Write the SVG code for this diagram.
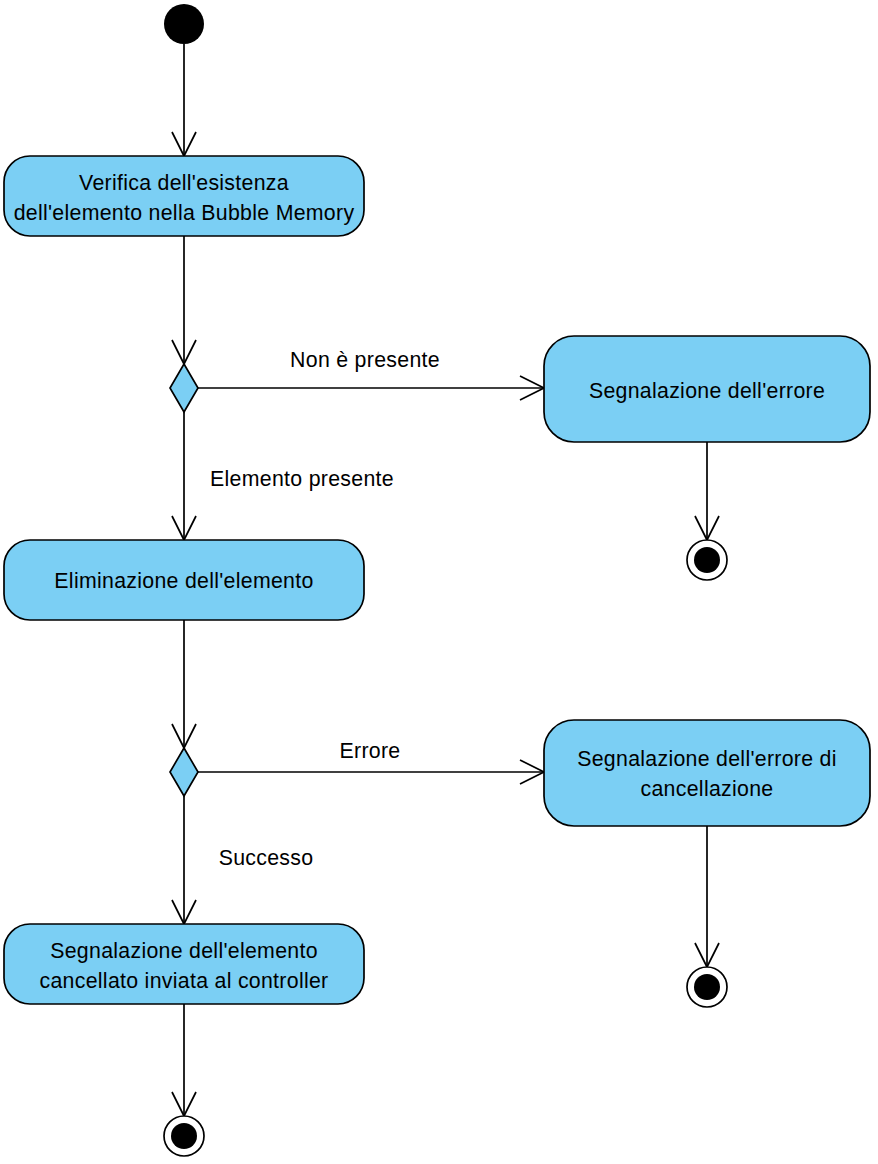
<svg xmlns="http://www.w3.org/2000/svg" width="878" height="1164" viewBox="0 0 878 1164">
<style>
.act{fill:#7bcff4;stroke:#000;stroke-width:1.7}
.dec{fill:#7bcff4;stroke:#000;stroke-width:1.7}
.t{font-family:"Liberation Sans",Arial,sans-serif;font-size:21.3px;letter-spacing:0.3px;fill:#000;text-anchor:middle}
.e{fill:none;stroke:#000;stroke-width:1.7}
.lbl{font-family:"Liberation Sans",Arial,sans-serif;font-size:21.3px;letter-spacing:0.3px;fill:#000;text-anchor:middle}
</style>
<defs>
<marker id="open" viewBox="-26 -14 28 28" markerWidth="28" markerHeight="28" refX="0" refY="0" orient="auto" markerUnits="userSpaceOnUse">
<path d="M -24 -12 L 0 0 L -24 12" fill="none" stroke="#000" stroke-width="1.7"/>
</marker>
</defs>
<rect width="878" height="1164" fill="#fff"/>
<g id="connectors">
<line class="e" x1="184" y1="44" x2="184" y2="156" marker-end="url(#open)"/>
<line class="e" x1="184" y1="236" x2="184" y2="364" marker-end="url(#open)"/>
<line class="e" x1="198" y1="388" x2="544" y2="388" marker-end="url(#open)"/>
<text class="lbl" x="365" y="367">Non è presente</text>
<line class="e" x1="184" y1="412" x2="184" y2="540" marker-end="url(#open)"/>
<text class="lbl" x="302" y="486">Elemento presente</text>
<line class="e" x1="707" y1="442" x2="707" y2="540" marker-end="url(#open)"/>
<line class="e" x1="184" y1="620" x2="184" y2="748" marker-end="url(#open)"/>
<line class="e" x1="198" y1="772" x2="544" y2="772" marker-end="url(#open)"/>
<text class="lbl" x="370" y="758">Errore</text>
<line class="e" x1="184" y1="796" x2="184" y2="924" marker-end="url(#open)"/>
<text class="lbl" x="266" y="865">Successo</text>
<line class="e" x1="707" y1="826" x2="707" y2="967" marker-end="url(#open)"/>
<line class="e" x1="184" y1="1004" x2="184" y2="1116" marker-end="url(#open)"/>
</g>
<g id="start"><circle cx="184" cy="24" r="20" fill="#000"/></g>
<g id="verifica">
<rect class="act" x="4" y="156" width="360" height="80" rx="26" ry="26"/>
<text class="t" x="184" y="189.5">Verifica dell'esistenza</text>
<text class="t" x="184" y="219.5">dell'elemento nella Bubble Memory</text>
</g>
<g id="decision1"><polygon class="dec" points="184,364 198,388 184,412 170,388"/></g>
<g id="errore">
<rect class="act" x="544" y="336" width="326" height="106" rx="30" ry="30"/>
<text class="t" x="707" y="398">Segnalazione dell'errore</text>
</g>
<g id="end1">
<circle cx="707" cy="560" r="20" fill="#fff" stroke="#000" stroke-width="1.7"/>
<circle cx="707" cy="560" r="13" fill="#000"/>
</g>
<g id="eliminazione">
<rect class="act" x="4" y="540" width="360" height="80" rx="26" ry="26"/>
<text class="t" x="184" y="588">Eliminazione dell'elemento</text>
</g>
<g id="decision2"><polygon class="dec" points="184,748 198,772 184,796 170,772"/></g>
<g id="errore_canc">
<rect class="act" x="544" y="720" width="326" height="106" rx="30" ry="30"/>
<text class="t" x="707" y="765.5">Segnalazione dell'errore di</text>
<text class="t" x="707" y="795.5">cancellazione</text>
</g>
<g id="end2">
<circle cx="707" cy="987" r="20" fill="#fff" stroke="#000" stroke-width="1.7"/>
<circle cx="707" cy="987" r="13" fill="#000"/>
</g>
<g id="segnalazione_ok">
<rect class="act" x="4" y="924" width="360" height="80" rx="26" ry="26"/>
<text class="t" x="184" y="958">Segnalazione dell'elemento</text>
<text class="t" x="184" y="988">cancellato inviata al controller</text>
</g>
<g id="end3">
<circle cx="184" cy="1136" r="20" fill="#fff" stroke="#000" stroke-width="1.7"/>
<circle cx="184" cy="1136" r="13" fill="#000"/>
</g>
</svg>
